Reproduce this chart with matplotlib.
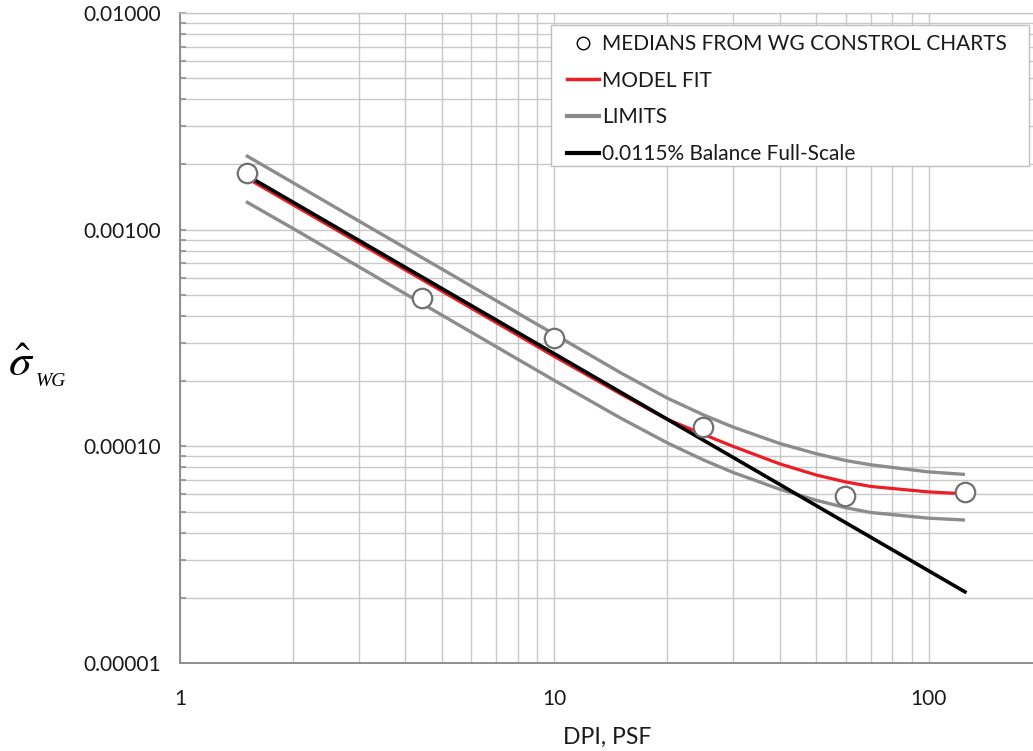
import matplotlib
matplotlib.use("Agg")
import matplotlib.pyplot as plt
from matplotlib.lines import Line2D
from matplotlib.patches import Rectangle
from matplotlib.ticker import LogLocator, NullFormatter, FuncFormatter, FixedLocator

plt.rcParams['font.family'] = ['Lato', 'DejaVu Sans']
plt.rcParams['mathtext.fontset'] = 'stix'

# ---- data ----
dpi_psf = [1.5, 2, 3, 5, 7, 10, 15, 20, 25, 30, 40, 50, 60, 70, 100, 125]
model_fit = [1.740e-3, 1.305e-3, 8.70e-4, 5.21e-4, 3.72e-4, 2.60e-4, 1.75e-4,
             1.334e-4, 1.136e-4, 1.00e-4, 8.30e-5, 7.38e-5, 6.85e-5, 6.53e-5,
             6.16e-5, 6.04e-5]
upper_limit = [2.202e-3, 1.651e-3, 1.098e-3, 6.59e-4, 4.70e-4, 3.29e-4, 2.19e-4,
               1.672e-4, 1.398e-4, 1.228e-4, 1.031e-4, 9.25e-5, 8.60e-5, 8.22e-5,
               7.62e-5, 7.42e-5]
lower_limit = [1.348e-3, 1.015e-3, 6.75e-4, 4.04e-4, 2.88e-4, 2.015e-4, 1.353e-4,
               1.039e-4, 8.66e-5, 7.58e-5, 6.34e-5, 5.64e-5, 5.21e-5, 4.95e-5,
               4.66e-5, 4.57e-5]

balance_x = [1.5, 125]
balance_y = [1.79e-3, 2.13e-5]

median_x = [1.51, 4.43, 10.0, 24.9, 59.9, 124.8]
median_y = [1.83e-3, 4.84e-4, 3.17e-4, 1.228e-4, 5.93e-5, 6.14e-5]

legend_labels = ["MEDIANS FROM WG CONSTROL CHARTS", "MODEL FIT", "LIMITS",
                 "0.0115% Balance Full-Scale"]
x_ticks = [1, 10, 100]
x_tick_labels = ["1", "10", "100"]
y_ticks = [1e-5, 1e-4, 1e-3, 1e-2]

# ---- colours ----
GRID = '#c9c9c9'
AXIS = '#8f8f8f'
GRAY = '#8c8c8c'
RED = '#ee1c25'
TEXT = '#1a1a1a'

W, H = 1033, 751
fig = plt.figure(figsize=(W / 100, H / 100), dpi=100)
ax = fig.add_axes([180 / W, 1 - 663 / H, (W - 180) / W, (663 - 13) / H])

ax.set_xscale('log')
ax.set_yscale('log')
ax.set_xlim(1, 190)
ax.set_ylim(1e-5, 1e-2)

ax.plot(dpi_psf, upper_limit, color=GRAY, lw=2.4, solid_capstyle='butt', zorder=3)
ax.plot(dpi_psf, lower_limit, color=GRAY, lw=2.4, solid_capstyle='butt', zorder=3)
ax.plot(dpi_psf, model_fit, color=RED, lw=2.3, zorder=4)
ax.plot(balance_x, balance_y, color='black', lw=2.6, zorder=5)
ax.plot(median_x, median_y, ls='none', marker='o', ms=14, mfc='white',
        mec='#707070', mew=1.6, zorder=6)

# grid
ax.xaxis.set_major_locator(FixedLocator(x_ticks))
ax.xaxis.set_minor_locator(LogLocator(base=10, subs=range(2, 10), numticks=20))
ax.yaxis.set_major_locator(FixedLocator(y_ticks))
ax.yaxis.set_minor_locator(LogLocator(base=10, subs=range(2, 10), numticks=20))
ax.xaxis.set_minor_formatter(NullFormatter())
ax.yaxis.set_minor_formatter(NullFormatter())
ax.set_xticklabels(x_tick_labels)
ax.yaxis.set_major_formatter(FuncFormatter(lambda v, p: f"{v:.5f}"))
ax.grid(True, which='both', color=GRID, lw=1.0, zorder=0)
ax.set_axisbelow(True)

ax.spines['right'].set_visible(False)
ax.spines['top'].set_color(GRID)
ax.spines['top'].set_linewidth(1.0)
for s in ['left', 'bottom']:
    ax.spines[s].set_color(AXIS)
    ax.spines[s].set_linewidth(1.4)

ax.tick_params(axis='y', which='both', direction='in', length=4, width=1.2,
               color=AXIS, labelsize=15, pad=14, labelcolor=TEXT)
ax.tick_params(axis='x', which='both', length=0, labelsize=15, pad=19,
               labelcolor=TEXT)

# legend box (drawn in figure coordinates) and frameless legend entries on top
box = Rectangle((551 / W, 1 - 166 / H), (1029 - 551) / W, (166 - 25) / H,
                transform=fig.transFigure, facecolor='white', edgecolor='#bfbfbf',
                lw=1.0, zorder=10, clip_on=False)
ax.add_patch(box)

handles = [
    Line2D([], [], ls='none', marker='o', ms=9, mfc='white', mec='black', mew=1.0),
    Line2D([], [], color=RED, lw=2.5),
    Line2D([], [], color=GRAY, lw=3),
    Line2D([], [], color='black', lw=3),
]
leg = ax.legend(handles, legend_labels, loc='upper left',
                bbox_to_anchor=(567 / W, 1 - 34 / H), bbox_transform=fig.transFigure,
                borderaxespad=0, borderpad=0, fontsize=15, frameon=False,
                handlelength=1.55, handletextpad=0.15, labelspacing=0.8)
leg.set_zorder(12)
for t in leg.get_texts():
    t.set_color(TEXT)

# axis titles
fig.text(607 / W, 1 - 737 / H, "DPI, PSF", ha='center', va='center',
         fontsize=16.5, color=TEXT)
fig.text(8 / W, 1 - 376 / H, r'$\hat{\sigma}$', ha='left', va='baseline',
         fontsize=33, color='black')
fig.text(36 / W, 1 - 386 / H, 'WG', ha='left', va='baseline', fontsize=14,
         family='Liberation Serif', style='italic', color='black')

fig.savefig('out.png', dpi=100)
